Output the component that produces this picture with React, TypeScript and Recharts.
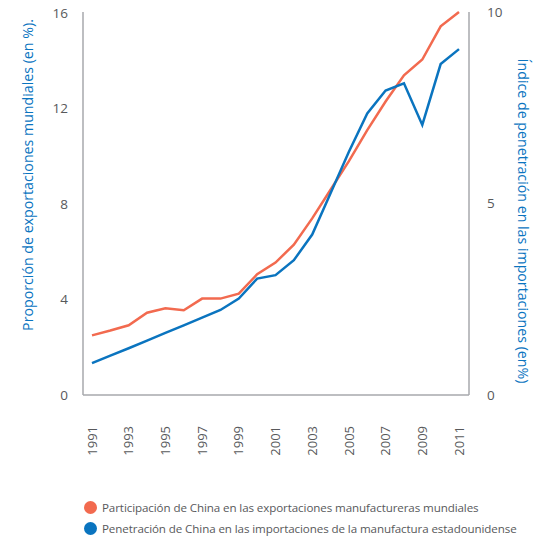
import { LineChart, Line, XAxis, YAxis, Legend } from 'recharts';

const years = [
  1991, 1992, 1993, 1994, 1995, 1996, 1997, 1998, 1999, 2000, 2001, 2002, 2003, 2004, 2005, 2006, 2007,
  2008, 2009, 2010, 2011,
];
// participación en exportaciones mundiales (eje izquierdo, %)
const exportShare = [
  2.5, 2.7, 2.92, 3.45, 3.63, 3.55, 4.04, 4.04, 4.25, 5.06, 5.55, 6.3, 7.4, 8.6, 9.8, 11.1, 12.3, 13.4,
  14.06, 15.45, 16.05,
];
// penetración en importaciones EE.UU. (eje derecho, %)
const importPenetration = [
  0.83, 1.03, 1.22, 1.42, 1.62, 1.82, 2.02, 2.22, 2.52, 3.04, 3.13, 3.52, 4.19, 5.27, 6.35, 7.35, 7.95,
  8.14, 7.05, 8.64, 9.03,
];
const xTicks = [1991, 1993, 1995, 1997, 1999, 2001, 2003, 2005, 2007, 2009, 2011];
const leftTicks = [0, 4, 8, 12, 16];
const rightTicks = [0, 5, 10];

const seriesNames = {
  share: 'Participación de China en las exportaciones manufactureras mundiales',
  pen: 'Penetración de China en las importaciones de la manufactura estadounidense',
};

const RED = '#f26a4f';
const BLUE = '#0a74bf';
const AXIS = '#a7a9ac';
const TICK = '#58595b';
const FONT = '"Open Sans", sans-serif';

const data = years.map((y, i) => ({
  year: y,
  share: exportShare[i],
  pen: importPenetration[i],
}));

function YearTick({ x, y, payload }: { x?: number; y?: number; payload?: { value: number } }) {
  return (
    <text
      x={0}
      y={0}
      dy="0.36em"
      transform={`translate(${x}, ${(y ?? 0) + 23}) rotate(-90)`}
      textAnchor="end"
      fill={TICK}
      fontSize={13}
      fontFamily={FONT}
    >
      {payload?.value}
    </text>
  );
}

function LegendBox() {
  const items = [
    { name: seriesNames.share, color: RED },
    { name: seriesNames.pen, color: BLUE },
  ];
  return (
    <div style={{ height: 63, paddingTop: 22, paddingLeft: 84, boxSizing: 'border-box' }}>
      {items.map((it) => (
        <div
          key={it.name}
          style={{
            display: 'flex',
            alignItems: 'center',
            height: 21,
            fontFamily: FONT,
            fontSize: 11.6,
            letterSpacing: -0.1,
            color: TICK,
            whiteSpace: 'nowrap',
          }}
        >
          <span
            style={{
              width: 13,
              height: 13,
              flexShrink: 0,
              borderRadius: '50%',
              background: it.color,
              display: 'inline-block',
              marginRight: 5,
            }}
          />
          <span style={{ flexShrink: 0 }}>{it.name}</span>
        </div>
      ))}
    </div>
  );
}

export default function App() {
  return (
    <div style={{ position: 'absolute', left: 0, top: 0, background: '#fff' }}>
      <LineChart width={534} height={538} data={data} margin={{ top: 12, right: 0, left: 0, bottom: 0 }}>
        <XAxis
          dataKey="year"
          ticks={xTicks}
          interval={0}
          padding={{ left: 9, right: 10 }}
          height={80}
          tick={<YearTick />}
          tickLine={false}
          axisLine={{ stroke: AXIS, strokeWidth: 1.5 }}
        />
        <YAxis
          yAxisId="left"
          domain={[0, 16]}
          ticks={leftTicks}
          width={83}
          tickLine={false}
          tickMargin={9}
          axisLine={{ stroke: AXIS, strokeWidth: 1.5 }}
          tick={{ fill: TICK, fontSize: 13.5, fontFamily: FONT }}
          label={() => (
            <text
              transform="translate(27, 175) rotate(-90)"
              textAnchor="middle"
              dominantBaseline="central"
              fill={BLUE}
              fontSize={14.2}
              fontFamily={FONT}
            >
              Proporción de exportaciones mundiales (en %).
            </text>
          )}
        />
        <YAxis
          yAxisId="right"
          orientation="right"
          domain={[0, 10]}
          ticks={rightTicks}
          width={65}
          tickLine={false}
          tickMargin={12}
          axisLine={{ stroke: AXIS, strokeWidth: 1.5 }}
          tick={{ fill: TICK, fontSize: 13.5, fontFamily: FONT, textAnchor: 'start' }}
          label={() => (
            <text
              transform="translate(523, 221) rotate(90)"
              textAnchor="middle"
              dominantBaseline="central"
              fill={BLUE}
              fontSize={14.2}
              fontFamily={FONT}
            >
              Índice de penetración en las importaciones (en%)
            </text>
          )}
        />
        <Legend verticalAlign="bottom" align="left" content={() => <LegendBox />} />
        <Line
          yAxisId="left"
          type="linear"
          dataKey="share"
          name={seriesNames.share}
          stroke={RED}
          strokeWidth={2.5}
          dot={false}
          isAnimationActive={false}
        />
        <Line
          yAxisId="right"
          type="linear"
          dataKey="pen"
          name={seriesNames.pen}
          stroke={BLUE}
          strokeWidth={2.5}
          dot={false}
          isAnimationActive={false}
        />
      </LineChart>
    </div>
  );
}
